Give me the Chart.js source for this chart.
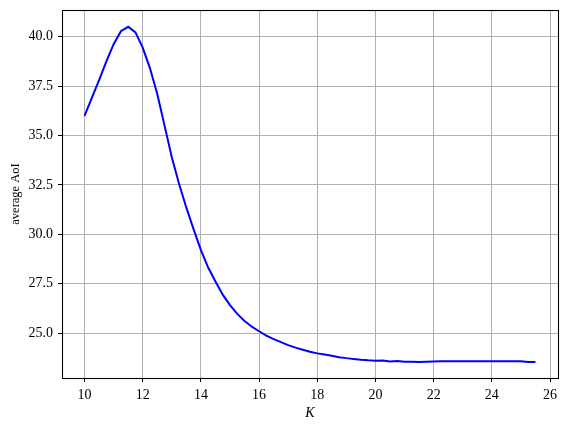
<!DOCTYPE html>
<html>
<head>
<meta charset="utf-8">
<script src="https://cdn.jsdelivr.net/npm/chart.js@4"></script>
<style>
html,body{margin:0;padding:0;background:#fff;}
canvas{display:block;}
</style>
</head>
<body>
<canvas id="c" width="568" height="429"></canvas>
<script>
const K = [10,10.25,10.5,10.75,11,11.25,11.5,11.75,12,12.25,12.5,12.75,13,13.25,13.5,13.75,14,14.25,14.5,14.75,15,15.25,15.5,15.75,16,16.25,16.5,16.75,17,17.25,17.5,17.75,18,18.25,18.5,18.75,19,19.25,19.5,19.75,20,20.25,20.5,20.75,21,21.25,21.5,21.75,22,22.25,22.5,22.75,23,23.25,23.5,23.75,24,24.25,24.5,24.75,25,25.25,25.5];
const avgAoI = [36.00,36.90,37.80,38.75,39.62,40.28,40.50,40.22,39.45,38.40,37.10,35.50,33.90,32.55,31.35,30.25,29.20,28.32,27.62,26.95,26.42,25.98,25.62,25.33,25.10,24.88,24.70,24.55,24.40,24.27,24.16,24.06,23.98,23.92,23.86,23.79,23.74,23.70,23.66,23.63,23.61,23.62,23.57,23.59,23.56,23.56,23.55,23.56,23.57,23.58,23.58,23.58,23.58,23.58,23.58,23.58,23.58,23.58,23.58,23.58,23.58,23.54,23.54];
const xTicks = [10,12,14,16,18,20,22,24,26];
const yTicks = [25.0,27.5,30.0,32.5,35.0,37.5,40.0];

const FONT = "'Liberation Serif', 'DejaVu Serif', serif";

const frame = {
  id: 'frame',
  afterDatasetsDraw(chart) {
    const a = chart.chartArea, ctx = chart.ctx;
    ctx.save();
    ctx.strokeStyle = '#000';
    ctx.lineWidth = 1.1;
    ctx.strokeRect(Math.round(a.left) + 0.5, Math.round(a.top) + 0.5, Math.round(a.right - a.left), Math.round(a.bottom - a.top));
    ctx.restore();
  }
};

new Chart(document.getElementById('c'), {
  type: 'line',
  data: {
    datasets: [{
      data: K.map((k, i) => ({x: k, y: avgAoI[i]})),
      borderColor: '#0000ff',
      borderWidth: 2,
      pointRadius: 0,
      tension: 0,
      fill: false
    }]
  },
  options: {
    responsive: false,
    animation: false,
    devicePixelRatio: 1,
    layout: {padding: {left: 0, right: 10, top: 10, bottom: 0}},
    plugins: {legend: {display: false}, tooltip: {enabled: false}},
    scales: {
      x: {
        type: 'linear',
        min: 9.225,
        max: 26.275,
        afterBuildTicks: s => { s.ticks = xTicks.map(v => ({value: v})); },
        afterFit: s => { s.height = 51; s.paddingLeft = 0; s.paddingRight = 0; },
        grid: {color: '#b0b0b0', lineWidth: 1, tickColor: '#000', tickLength: 4, drawTicks: true},
        border: {display: false},
        ticks: {color: '#000', padding: 5, maxRotation: 0, font: {family: FONT, size: 14}, callback: v => String(v)},
        title: {display: true, text: 'K', color: '#000', padding: {top: 0, bottom: 7}, font: {family: FONT, size: 14, style: 'italic'}}
      },
      y: {
        type: 'linear',
        min: 22.735,
        max: 41.35,
        afterBuildTicks: s => { s.ticks = yTicks.map(v => ({value: v})); },
        afterFit: s => { s.width = 62; s.paddingTop = 0; s.paddingBottom = 0; },
        grid: {color: '#b0b0b0', lineWidth: 1, tickColor: '#000', tickLength: 4, drawTicks: true},
        border: {display: false},
        ticks: {color: '#000', padding: 5, font: {family: FONT, size: 14}, callback: v => Number(v).toFixed(1)},
        title: {display: true, text: 'average AoI', color: '#000', padding: {top: 8, bottom: 0}, font: {family: FONT, size: 12.5}}
      }
    }
  },
  plugins: [frame]
});
</script>
</body>
</html>
